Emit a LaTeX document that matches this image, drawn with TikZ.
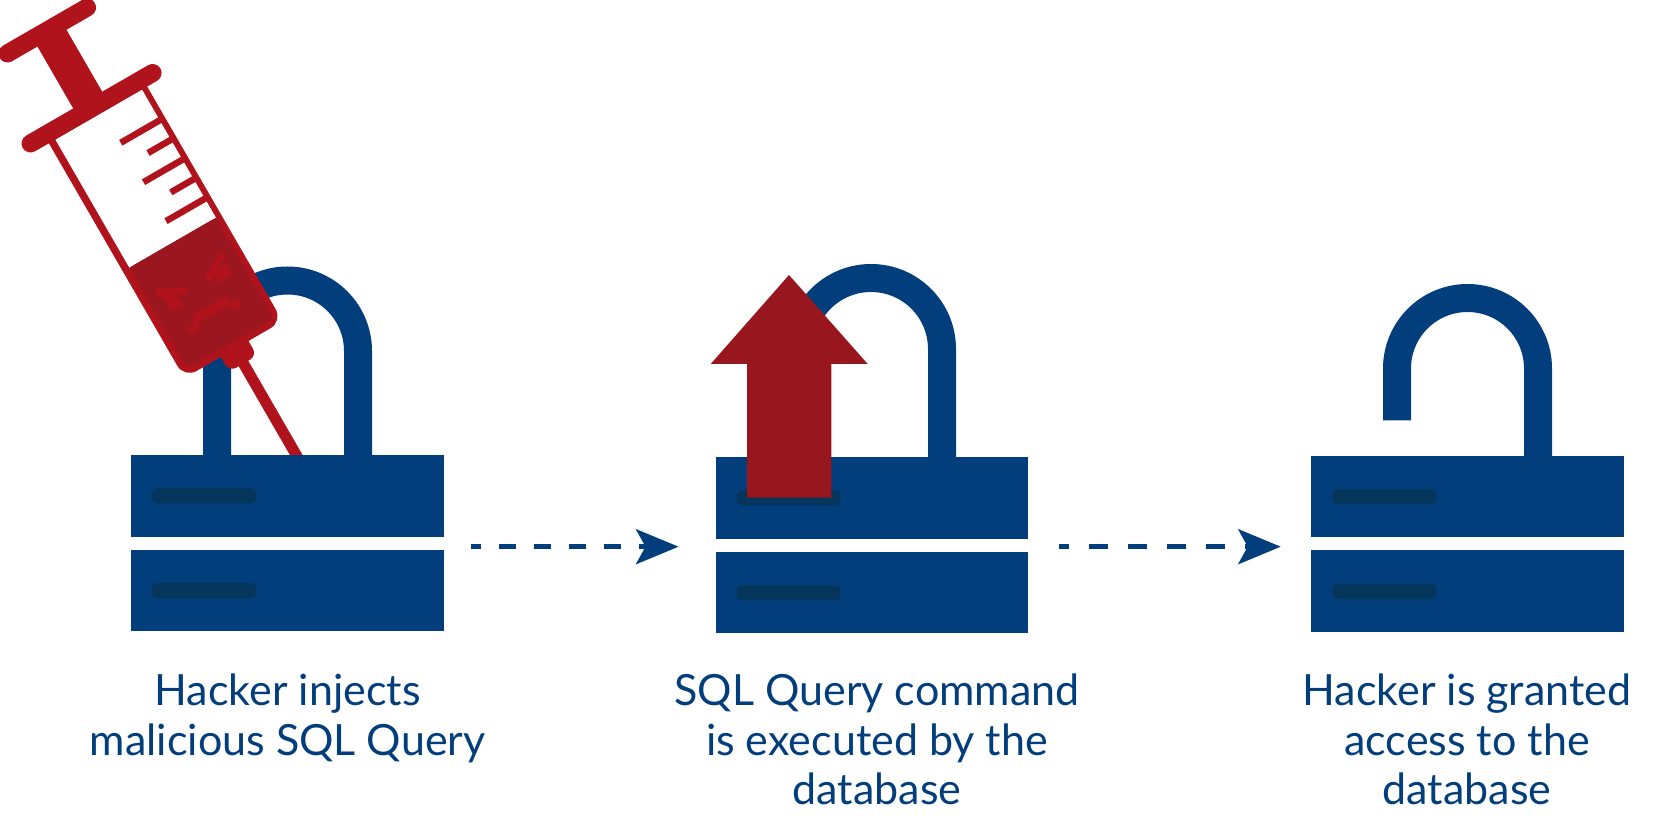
\documentclass[tikz,border=0pt]{standalone}
\usepackage{fontspec}
\setmainfont{Lato}
\usetikzlibrary{arrows.meta}
\definecolor{lockblue}{HTML}{023E7B}
\definecolor{slotdark}{HTML}{04365C}
\definecolor{synred}{HTML}{B0131C}
\definecolor{liqred}{HTML}{9C161F}
\definecolor{arrred}{HTML}{98161D}
\tikzset{
  lockbody/.style={fill=lockblue,draw=none},
  slotbar/.style={fill=slotdark,draw=none,rounded corners=5pt},
  shackle/.style={draw=lockblue,line width=28pt},
  flow/.style={draw=lockblue,line width=4.5pt,-{Stealth[length=42.5pt,width=35pt,inset=9.5pt]}},
  caption/.style={text=lockblue,align=center,font=\fontsize{43pt}{49.7pt}\selectfont,anchor=north,inner sep=0pt},
  synline/.style={draw=synred,line cap=butt},
}
\newcommand{\lockbase}[2]{% x, y of top of upper rect
  \fill[lockbody] (#1,#2) rectangle +(312.5,81.5);
  \fill[lockbody] (#1,#2+94.5) rectangle +(312.5,81.5);
  \fill[slotbar] (#1+21,#2+33.3) rectangle +(104,15);
  \fill[slotbar] (#1+21,#2+128) rectangle +(104,15.3);
}
\newcommand{\rbox}[4]{(#1,#2) -- (#3,#2) -- (#3,#4) -- (#1,#4) -- cycle}
\begin{document}
\begin{tikzpicture}[x=1pt,y=-1pt]
\useasboundingbox (0,0) rectangle (1666,818);
% shackles
\draw[shackle] (217,456) -- (217,351) arc[start angle=180,end angle=360,radius=70.5] -- (358,456);
\draw[shackle] (800,458) -- (800,349) arc[start angle=180,end angle=360,radius=71] -- (942,458);
\draw[shackle] (1397,420.3) -- (1397,368.5) arc[start angle=180,end angle=360,radius=70.5] -- (1538,457);
% syringe
\begin{scope}[shift={(92,108)},x={(.5pt,-.866pt)},y={(.866pt,.5pt)}]
  \draw[synline,line width=11pt] (285,3.4) -- (415,3.4);
  \fill[synred,rounded corners=8pt] \rbox{270}{-13}{297}{19};
  \fill[synred,rounded corners=14pt] \rbox{-5}{-55}{280}{58.5};
  \fill[white] \rbox{9}{-47.5}{158}{52.5};
  \fill[liqred,rounded corners=5pt] \rbox{157}{-47.5}{273}{52.5};
  \fill[liqred] \rbox{157}{-47.5}{165}{52.5};
  \fill[synred] \rbox{-89}{-16.5}{2}{17};
  \draw[synline,line width=18pt,line cap=round] (0,-71) -- (0,70);
  \draw[synline,line width=18pt,line cap=round] (-89.5,-46) -- (-89.5,46);
  \foreach \u/\v in {44.5/7.5,67/26,90/7.5,112.5/26,135/7.5}
    \draw[synline,line width=6.5pt] (\u,\v) -- (\u,54);
\end{scope}
\begin{scope}[x=.33333pt,y=-.33333pt]
  \fill[synred] (680,765) -- (660,755) -- (612,835) -- (632,847) -- (645,825) -- (655,850) -- (698,825) -- (678,790) -- (650,805) -- cycle;
  \fill[synred] (467,865) -- (565,862) -- (563,880) -- (530,885) -- (553,915) -- (512,935) -- (490,895) -- (470,887) -- cycle;
  \fill[synred] (575,945) -- (680,887) -- (690,905) -- (712,893) -- (728,915) -- (705,932) -- (692,915) -- (595,967) -- (600,985) -- (572,1005) -- (560,985) -- (588,970) -- cycle;
\end{scope}
% lock bodies
\lockbase{131}{455}
\lockbase{715.5}{457}
\lockbase{1311.3}{455.7}
% big arrow
\fill[arrred] (789,275) -- (867.7,364) -- (831.3,364) -- (831.3,497.7) -- (747,497.7) -- (747,364) -- (710.7,364) -- cycle;
% flow arrows
\coordinate (a1) at (471.3,546.7);
\coordinate (a2) at (678.5,546.7);
\coordinate (b1) at (1059.3,546.7);
\coordinate (b2) at (1280.7,546.7);
\draw[flow,dash pattern=on 17.5pt off 17.5pt,dash phase=7.5pt] (a1) -- (a2);
\draw[flow,dash pattern=on 19.5pt off 19.5pt,dash phase=9.5pt] (b1) -- (b2);
% captions
\node[caption] (c1) at (287.7,673.5) {Hacker injects\\malicious SQL Query};
\node[caption] (c2) at (877,673.5) {SQL Query command\\is executed by the\\database};
\node[caption] (c3) at (1467,673.5) {Hacker is granted\\access to the\\database};
\end{tikzpicture}
\end{document}
